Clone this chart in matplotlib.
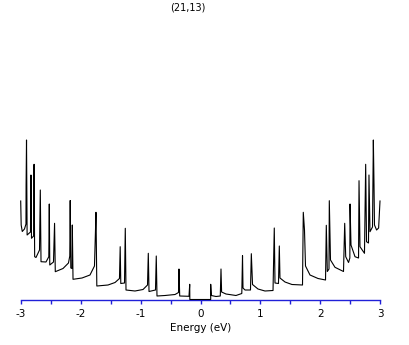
import matplotlib
matplotlib.use('Agg')
import matplotlib.pyplot as plt
from matplotlib.ticker import MultipleLocator

# DOS of the (21,13) tube, arbitrary units, vertices
energy_neg = [-3.000, -2.992, -2.974, -2.937, -2.912, -2.910, -2.903, -2.893,
              -2.837, -2.829, -2.820, -2.784, -2.777, -2.767, -2.745, -2.686,
              -2.673, -2.661, -2.578, -2.531, -2.523, -2.515, -2.453, -2.435,
              -2.423, -2.294, -2.203, -2.181, -2.174, -2.164, -2.144, -2.139,
              -2.127, -1.977, -1.844, -1.769, -1.752, -1.744, -1.730, -1.543,
              -1.426, -1.352, -1.340, -1.330, -1.268, -1.255, -1.243, -1.093,
              -0.959, -0.884, -0.871, -0.859, -0.751, -0.738, -0.726, -0.592,
              -0.425, -0.367, -0.359, -0.347, -0.192, -0.180, -0.178]
dos_neg = [98.5, 74.5, 68.0, 70.5, 75.5, 114.5, 159.5, 64.5,
           67.5, 124.5, 61.2, 63.5, 135.2, 42.8, 42.0, 49.5,
           109.5, 37.8, 37.5, 42.8, 95.5, 34.5, 37.5, 76.2,
           27.8, 31.0, 36.5, 43.5, 99.0, 31.5, 31.0, 74.5,
           20.2, 21.5, 24.5, 33.5, 69.5, 87.2, 13.5, 14.5,
           17.0, 21.0, 52.8, 16.0, 16.5, 71.2, 9.5, 8.5,
           10.0, 14.5, 46.2, 8.0, 9.5, 43.5, 3.5, 4.0,
           5.0, 7.0, 30.5, 3.5, 3.2, 15.2, 0.0]

energy_pos = [0.170, 0.170, 0.180, 0.259, 0.330, 0.342, 0.352, 0.425,
              0.592, 0.689, 0.701, 0.709, 0.743, 0.834, 0.848, 0.868,
              0.959, 1.076, 1.210, 1.231, 1.243, 1.301, 1.315, 1.326,
              1.410, 1.526, 1.702, 1.715, 1.735, 1.752, 1.827, 1.961,
              2.086, 2.099, 2.116, 2.144, 2.149, 2.169, 2.244, 2.386,
              2.406, 2.423, 2.470, 2.492, 2.495, 2.511, 2.578, 2.637,
              2.645, 2.661, 2.736, 2.756, 2.770, 2.803, 2.811, 2.828,
              2.870, 2.884, 2.895, 2.903, 2.938, 2.972, 2.995]
dos_pos = [0.0, 15.2, 4.0, 3.0, 3.5, 30.5, 7.5, 5.5,
           4.0, 6.0, 43.8, 11.5, 9.5, 9.5, 45.8, 15.0,
           10.5, 8.5, 9.0, 71.5, 16.5, 16.0, 53.5, 21.5,
           17.5, 15.0, 14.5, 87.2, 69.5, 33.5, 24.5, 21.0,
           19.5, 74.2, 28.0, 30.5, 98.8, 39.5, 32.2, 28.0,
           76.2, 42.8, 37.0, 41.5, 95.5, 54.5, 42.8, 41.5,
           118.8, 52.8, 46.2, 135.2, 57.8, 56.5, 124.5, 67.8,
           72.5, 159.5, 114.5, 74.5, 69.5, 71.5, 98.5]

title = '(21,13)'
xlabel = 'Energy (eV)'
xticks = [-3, -2, -1, 0, 1, 2, 3]

axis_blue = '#2020d8'

fig = plt.figure(figsize=(4.09, 3.45), dpi=100)
ax = fig.add_axes([20.7 / 409, 45.5 / 345, 359.6 / 409, 279.5 / 345])

energy = energy_neg + energy_pos
dos = dos_neg + dos_pos
ax.plot(energy, dos, color='black', lw=0.8, clip_on=False, zorder=3)

ax.set_xlim(-3, 3)
ax.set_ylim(0, 279.5)
for side in ['top', 'right', 'left']:
    ax.spines[side].set_visible(False)
ax.spines['bottom'].set_color(axis_blue)
ax.spines['bottom'].set_linewidth(1.0)
ax.set_yticks([])

ax.set_xticks(xticks)
ax.set_xticklabels([str(t) for t in xticks])
ax.xaxis.set_minor_locator(MultipleLocator(0.5))
ax.tick_params(axis='x', which='both', direction='out', length=3,
               width=1.0, color=axis_blue, labelsize=7.5, pad=4)
ax.set_xlabel(xlabel, fontsize=7.5, labelpad=3)

fig.text(188 / 409, 1 - 8 / 345, title, ha='center', va='center', fontsize=7)

fig.savefig('out.png', dpi=100)
